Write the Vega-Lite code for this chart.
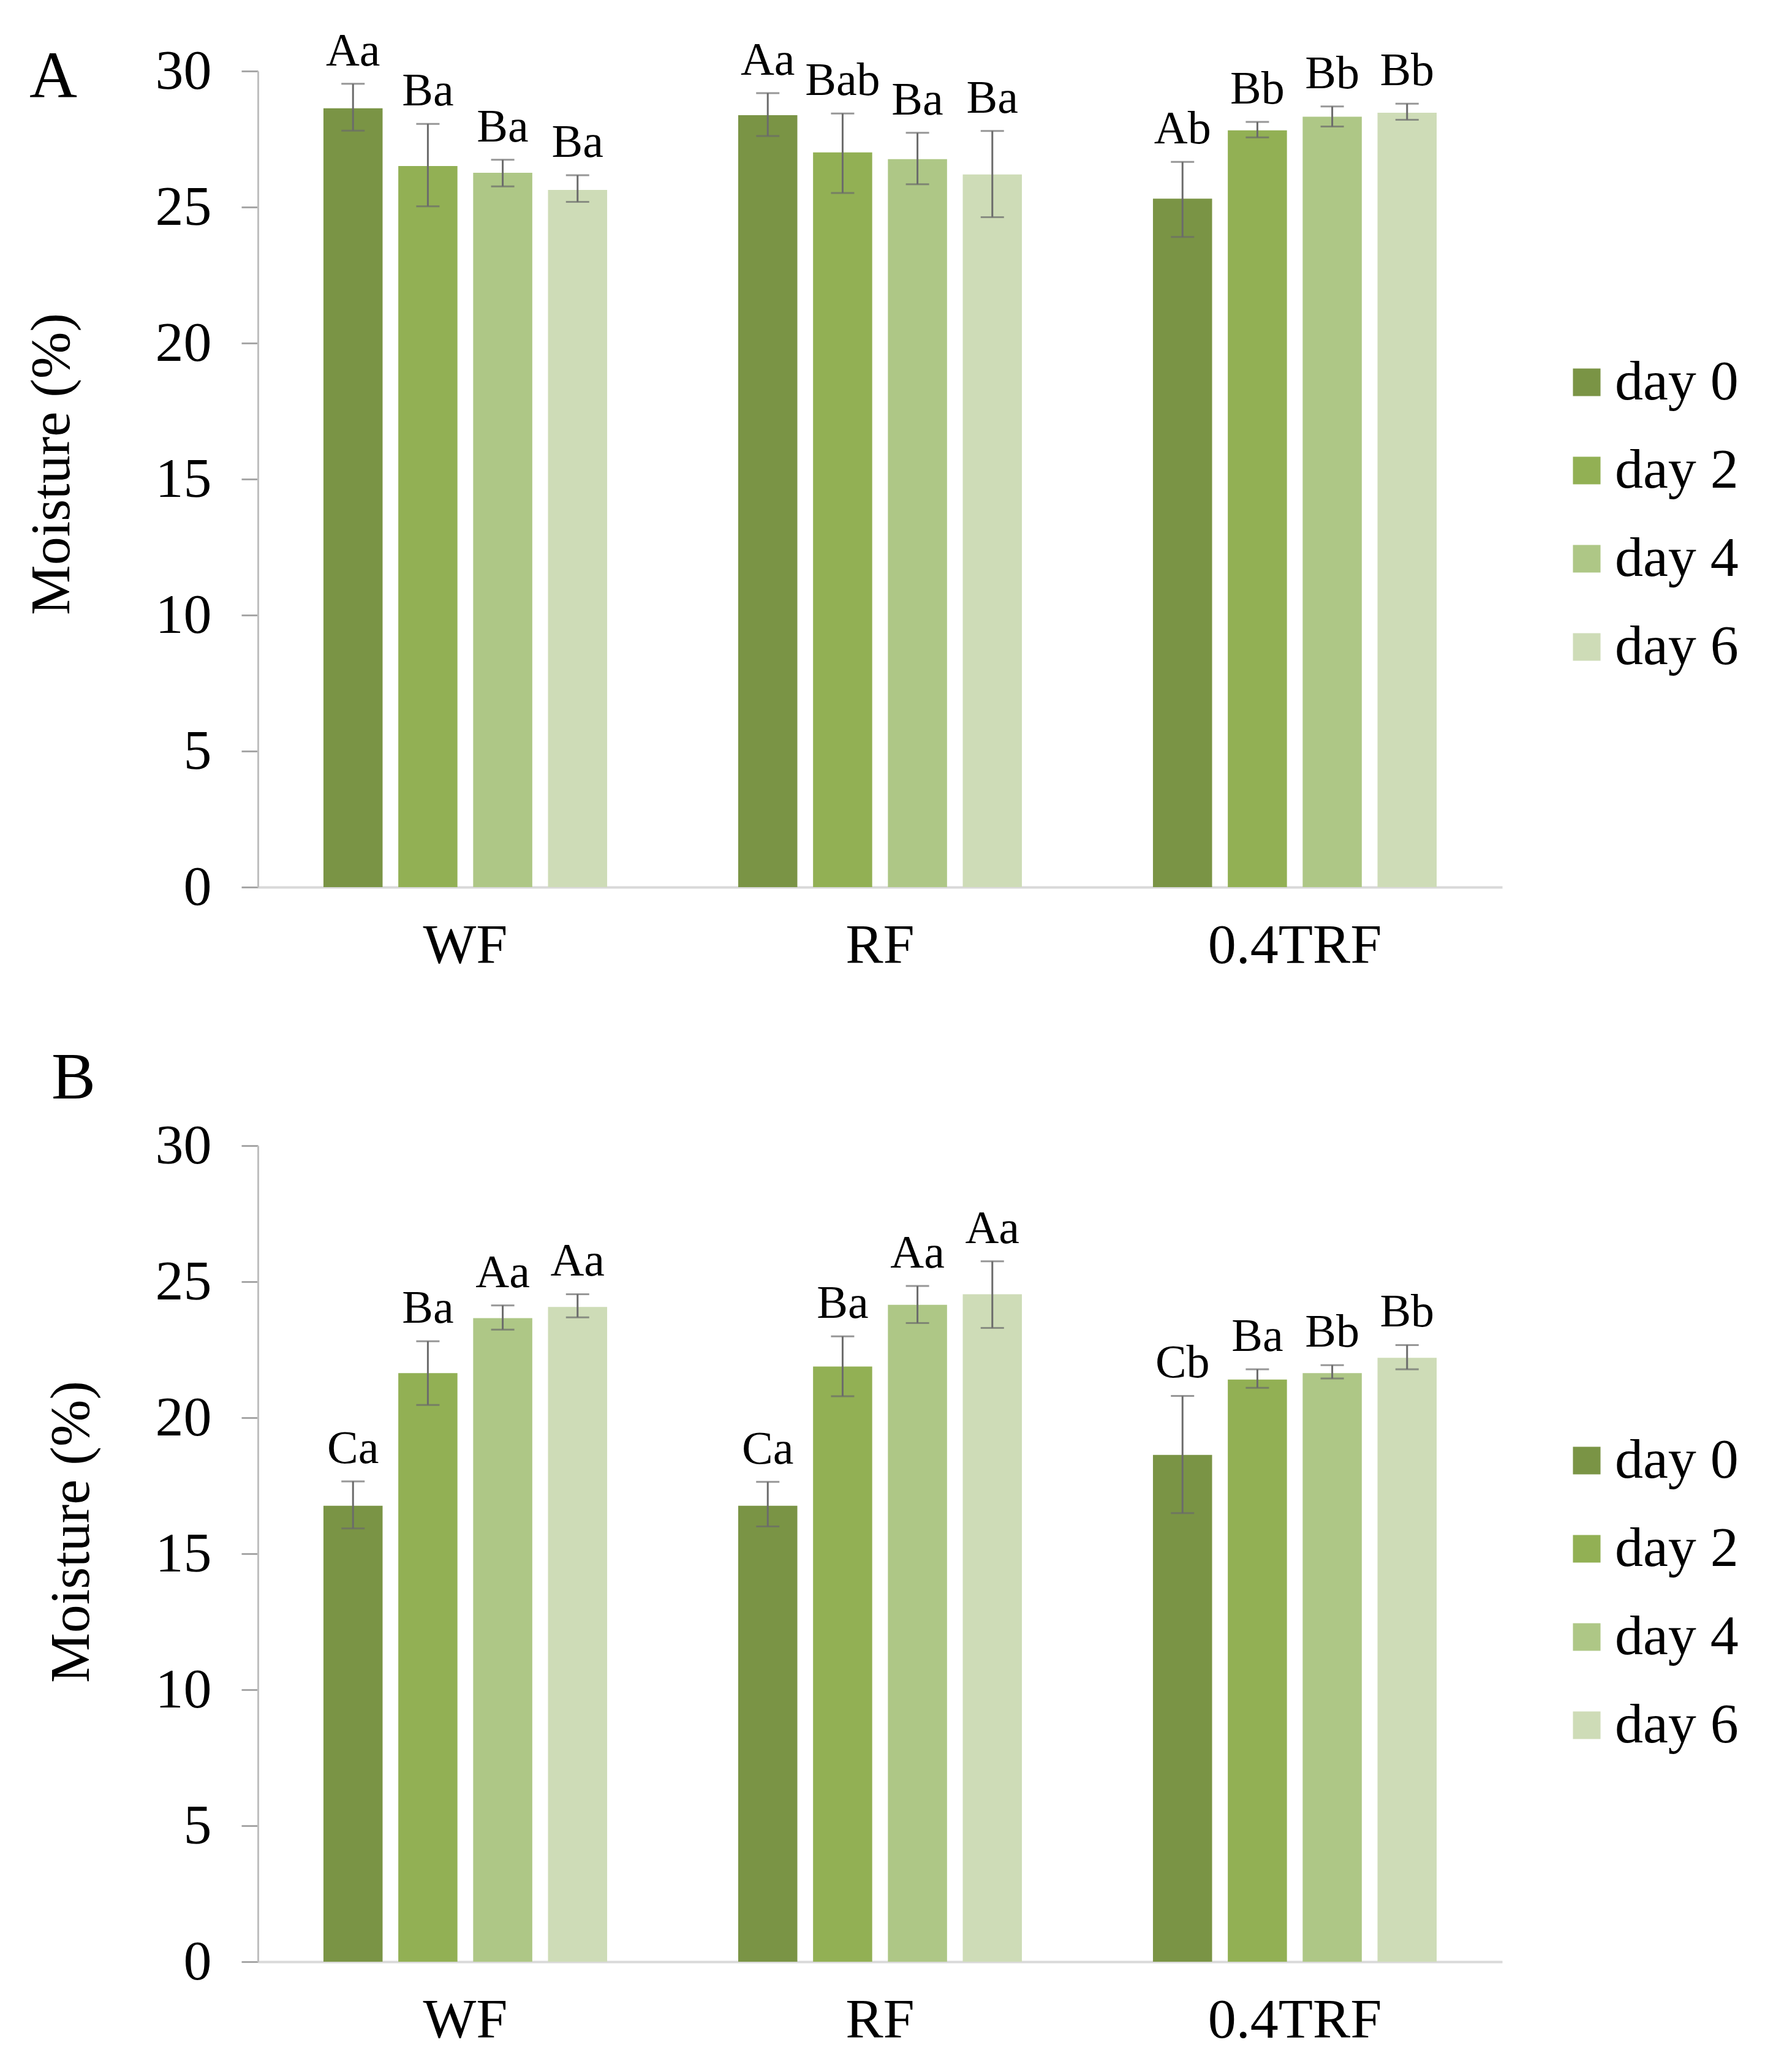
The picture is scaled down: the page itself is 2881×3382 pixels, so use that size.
{
  "$schema": "https://vega.github.io/schema/vega-lite/v6.json",
  "description": "Moisture (%) of WF, RF and 0.4TRF on day 0, 2, 4 and 6, panels A and B, with error bars and letter labels.",
  "padding": {"left": 38, "top": 45, "right": 0, "bottom": 0},
  "background": "white",
  "config": {
    "view": {"stroke": null},
    "font": "Liberation Serif",
    "axis": {"grid": false, "labelFont": "Liberation Serif", "titleFont": "Liberation Serif", "labelColor": "#000000", "titleColor": "#000000", "titleFontWeight": "normal", "labelLimit": 0},
    "legend": {"labelFont": "Liberation Serif", "labelColor": "#000000", "labelLimit": 0},
    "title": {"font": "Liberation Serif", "fontWeight": "normal", "color": "#000000"}
  },
  "datasets": {
    "moisture": [
      {"panel": "A", "sample": "WF", "day": "day 0", "moisture": 28.63, "low": 27.81, "high": 29.53, "letter": "Aa"},
      {"panel": "A", "sample": "WF", "day": "day 2", "moisture": 26.51, "low": 25.03, "high": 28.06, "letter": "Ba"},
      {"panel": "A", "sample": "WF", "day": "day 4", "moisture": 26.26, "low": 25.76, "high": 26.74, "letter": "Ba"},
      {"panel": "A", "sample": "WF", "day": "day 6", "moisture": 25.63, "low": 25.19, "high": 26.17, "letter": "Ba"},
      {"panel": "A", "sample": "RF", "day": "day 0", "moisture": 28.38, "low": 27.61, "high": 29.19, "letter": "Aa"},
      {"panel": "A", "sample": "RF", "day": "day 2", "moisture": 27.01, "low": 25.52, "high": 28.44, "letter": "Bab"},
      {"panel": "A", "sample": "RF", "day": "day 4", "moisture": 26.76, "low": 25.84, "high": 27.73, "letter": "Ba"},
      {"panel": "A", "sample": "RF", "day": "day 6", "moisture": 26.2, "low": 24.63, "high": 27.8, "letter": "Ba"},
      {"panel": "A", "sample": "0.4TRF", "day": "day 0", "moisture": 25.31, "low": 23.9, "high": 26.66, "letter": "Ab"},
      {"panel": "A", "sample": "0.4TRF", "day": "day 2", "moisture": 27.82, "low": 27.56, "high": 28.13, "letter": "Bb"},
      {"panel": "A", "sample": "0.4TRF", "day": "day 4", "moisture": 28.32, "low": 27.96, "high": 28.7, "letter": "Bb"},
      {"panel": "A", "sample": "0.4TRF", "day": "day 6", "moisture": 28.47, "low": 28.21, "high": 28.8, "letter": "Bb"},
      {"panel": "B", "sample": "WF", "day": "day 0", "moisture": 16.76, "low": 15.93, "high": 17.66, "letter": "Ca"},
      {"panel": "B", "sample": "WF", "day": "day 2", "moisture": 21.64, "low": 20.47, "high": 22.81, "letter": "Ba"},
      {"panel": "B", "sample": "WF", "day": "day 4", "moisture": 23.66, "low": 23.24, "high": 24.13, "letter": "Aa"},
      {"panel": "B", "sample": "WF", "day": "day 6", "moisture": 24.07, "low": 23.69, "high": 24.54, "letter": "Aa"},
      {"panel": "B", "sample": "RF", "day": "day 0", "moisture": 16.76, "low": 16.0, "high": 17.64, "letter": "Ca"},
      {"panel": "B", "sample": "RF", "day": "day 2", "moisture": 21.88, "low": 20.79, "high": 22.99, "letter": "Ba"},
      {"panel": "B", "sample": "RF", "day": "day 4", "moisture": 24.15, "low": 23.48, "high": 24.84, "letter": "Aa"},
      {"panel": "B", "sample": "RF", "day": "day 6", "moisture": 24.54, "low": 23.3, "high": 25.75, "letter": "Aa"},
      {"panel": "B", "sample": "0.4TRF", "day": "day 0", "moisture": 18.63, "low": 16.49, "high": 20.8, "letter": "Cb"},
      {"panel": "B", "sample": "0.4TRF", "day": "day 2", "moisture": 21.4, "low": 21.1, "high": 21.78, "letter": "Ba"},
      {"panel": "B", "sample": "0.4TRF", "day": "day 4", "moisture": 21.64, "low": 21.44, "high": 21.93, "letter": "Bb"},
      {"panel": "B", "sample": "0.4TRF", "day": "day 6", "moisture": 22.2, "low": 21.78, "high": 22.67, "letter": "Bb"}
    ]
  },
  "spacing": 118,
  "resolve": {"legend": {"color": "independent"}},
  "vconcat": [
    {
      "title": {"text": "A", "anchor": "start", "frame": "bounds", "fontSize": 108, "baseline": "alphabetic", "offset": -221, "dx": 10},
      "width": 2031,
      "height": 1332,
      "data": {"name": "moisture"},
      "transform": [{"filter": "datum.panel === 'A'"}],
      "encoding": {
        "x": {
          "field": "sample", "type": "nominal", "sort": ["WF", "RF", "0.4TRF"],
          "scale": {"paddingInner": 0.316, "paddingOuter": 0.158},
          "axis": {"title": null, "labelAngle": 0, "labelFontSize": 92, "labelPadding": 50, "ticks": false, "domainColor": "#d9d9d9", "domainWidth": 4}
        },
        "xOffset": {"field": "day", "type": "nominal", "scale": {"paddingInner": 0.21, "paddingOuter": 0}},
        "y": {
          "type": "quantitative",
          "scale": {"domain": [0, 30], "nice": false},
          "axis": {"title": "Moisture (%)", "titleFontSize": 92, "titlePadding": 122, "titleY": 641, "values": [0, 5, 10, 15, 20, 25, 30], "labelFontSize": 92, "labelPadding": 49, "tickSize": 27, "tickColor": "#a6a6a6", "tickWidth": 3, "domainColor": "#bfbfbf", "domainWidth": 3}
        }
      },
      "layer": [
        {
          "mark": {"type": "bar"},
          "encoding": {
            "y": {"field": "moisture", "type": "quantitative"},
            "color": {
              "field": "day", "type": "nominal",
              "scale": {"domain": ["day 0", "day 2", "day 4", "day 6"], "range": ["#7a9445", "#92b054", "#aec786", "#cedcb7"]},
              "legend": {"title": null, "orient": "none", "legendX": 2123, "legendY": 462, "labelFontSize": 92, "symbolType": "square", "symbolSize": 2025, "symbolStrokeWidth": 0, "labelOffset": 0, "rowPadding": 52}
            }
          }
        },
        {
          "mark": {"type": "rule", "color": "#6b6b6b", "strokeWidth": 3},
          "encoding": {"y": {"field": "low", "type": "quantitative"}, "y2": {"field": "high"}}
        },
        {
          "mark": {"type": "tick", "color": "#6b6b6b", "thickness": 3, "size": 38, "orient": "horizontal"},
          "encoding": {"y": {"field": "low", "type": "quantitative"}}
        },
        {
          "mark": {"type": "tick", "color": "#6b6b6b", "thickness": 3, "size": 38, "orient": "horizontal"},
          "encoding": {"y": {"field": "high", "type": "quantitative"}}
        },
        {
          "mark": {"type": "text", "fontSize": 76, "baseline": "alphabetic", "dy": -30, "color": "#000000"},
          "encoding": {"y": {"field": "high", "type": "quantitative"}, "text": {"field": "letter"}}
        }
      ]
    },
    {
      "title": {"text": "B", "anchor": "start", "frame": "bounds", "fontSize": 108, "baseline": "alphabetic", "offset": -77, "dx": 14},
      "width": 2031,
      "height": 1332,
      "data": {"name": "moisture"},
      "transform": [{"filter": "datum.panel === 'B'"}],
      "encoding": {
        "x": {
          "field": "sample", "type": "nominal", "sort": ["WF", "RF", "0.4TRF"],
          "scale": {"paddingInner": 0.316, "paddingOuter": 0.158},
          "axis": {"title": null, "labelAngle": 0, "labelFontSize": 92, "labelPadding": 50, "ticks": false, "domainColor": "#d9d9d9", "domainWidth": 4}
        },
        "xOffset": {"field": "day", "type": "nominal", "scale": {"paddingInner": 0.21, "paddingOuter": 0}},
        "y": {
          "type": "quantitative",
          "scale": {"domain": [0, 30], "nice": false},
          "axis": {"title": "Moisture (%)", "titleFontSize": 92, "titlePadding": 90, "titleY": 630, "values": [0, 5, 10, 15, 20, 25, 30], "labelFontSize": 92, "labelPadding": 49, "tickSize": 27, "tickColor": "#a6a6a6", "tickWidth": 3, "domainColor": "#bfbfbf", "domainWidth": 3}
        }
      },
      "layer": [
        {
          "mark": {"type": "bar"},
          "encoding": {
            "y": {"field": "moisture", "type": "quantitative"},
            "color": {
              "field": "day", "type": "nominal",
              "scale": {"domain": ["day 0", "day 2", "day 4", "day 6"], "range": ["#7a9445", "#92b054", "#aec786", "#cedcb7"]},
              "legend": {"title": null, "orient": "none", "legendX": 2123, "legendY": 468, "labelFontSize": 92, "symbolType": "square", "symbolSize": 2025, "symbolStrokeWidth": 0, "labelOffset": 0, "rowPadding": 52}
            }
          }
        },
        {
          "mark": {"type": "rule", "color": "#6b6b6b", "strokeWidth": 3},
          "encoding": {"y": {"field": "low", "type": "quantitative"}, "y2": {"field": "high"}}
        },
        {
          "mark": {"type": "tick", "color": "#6b6b6b", "thickness": 3, "size": 38, "orient": "horizontal"},
          "encoding": {"y": {"field": "low", "type": "quantitative"}}
        },
        {
          "mark": {"type": "tick", "color": "#6b6b6b", "thickness": 3, "size": 38, "orient": "horizontal"},
          "encoding": {"y": {"field": "high", "type": "quantitative"}}
        },
        {
          "mark": {"type": "text", "fontSize": 76, "baseline": "alphabetic", "dy": -30, "color": "#000000"},
          "encoding": {"y": {"field": "high", "type": "quantitative"}, "text": {"field": "letter"}}
        }
      ]
    }
  ]
}
